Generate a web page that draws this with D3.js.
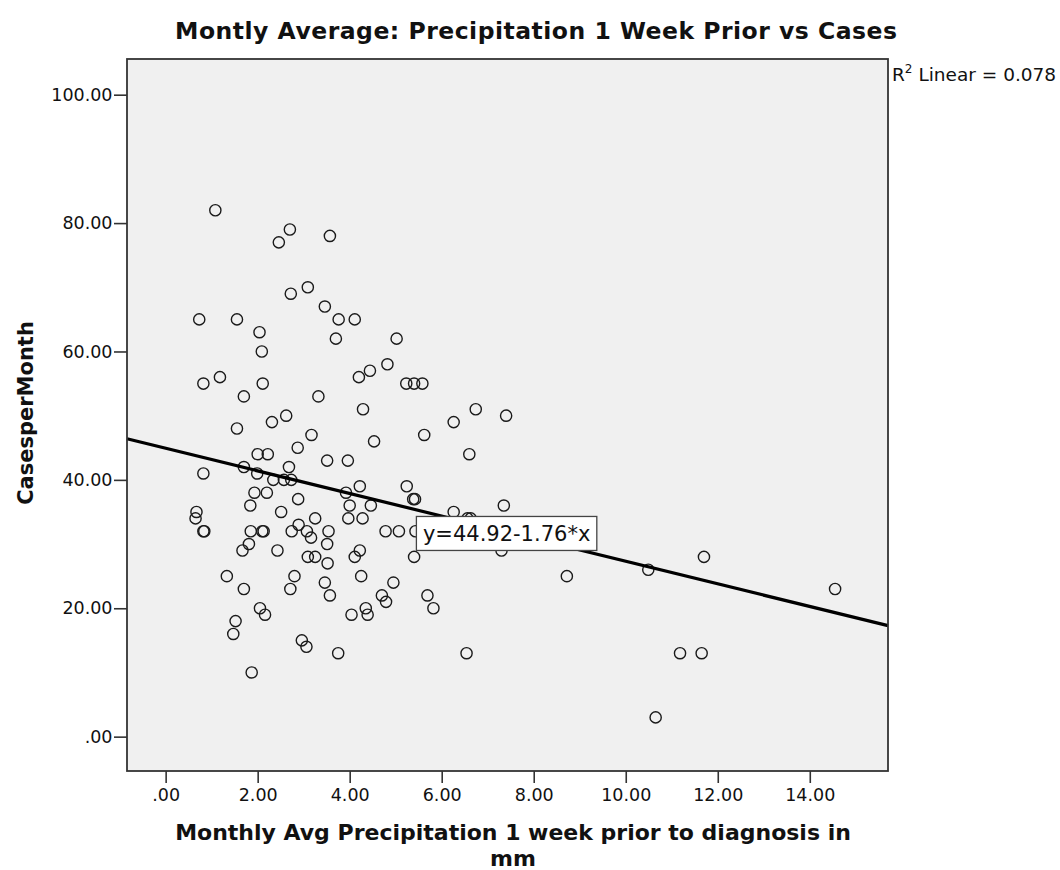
<!DOCTYPE html>
<html>
<head>
<meta charset="utf-8">
<script src="https://cdn.jsdelivr.net/npm/d3@7"></script>
<style>
  body { margin: 0; background: #fff; }
  svg { display: block; }
  text { font-family: "DejaVu Sans", sans-serif; fill: #111; }
</style>
</head>
<body>
<svg id="chart" width="1060" height="870"></svg>
<script>
// Monthly average precipitation one week before diagnosis (mm)
const precip = [
  1.08, 2.70, 2.46, 3.57, 2.72, 3.09, 3.46, 0.73, 1.55, 3.76,
  4.11, 2.04, 3.70, 5.02, 2.09, 4.82, 4.44, 4.20, 1.18, 0.82,
  2.11, 5.23, 5.40, 5.58, 1.70, 3.32, 4.29, 6.74, 2.62, 7.40,
  2.31, 6.26, 1.55, 3.17, 5.62, 4.53, 2.87, 2.00, 2.22, 6.60,
  3.51, 3.96, 1.70, 2.68, 0.82, 1.99, 2.34, 2.57, 2.73, 4.22,
  5.24, 1.93, 2.20, 3.92, 2.88, 5.38, 5.42, 1.84, 4.00, 4.46,
  7.35, 0.67, 2.51, 6.26, 0.65, 3.25, 3.97, 4.28, 6.56, 6.63,
  2.89, 0.82, 0.84, 1.85, 2.10, 2.13, 2.74, 3.07, 3.54, 4.78,
  5.07, 5.43, 3.16, 1.81, 3.51, 1.67, 2.43, 4.22, 7.30, 3.09,
  3.25, 4.11, 5.40, 11.70, 3.52, 10.49, 1.33, 2.80, 4.25, 8.72,
  3.46, 4.95, 1.70, 2.71, 14.55, 3.57, 4.70, 5.69, 4.79, 2.05,
  4.35, 5.82, 2.16, 4.04, 4.39, 1.52, 1.47, 2.96, 3.06, 3.75,
  6.54, 11.18, 11.65, 1.87, 10.65
];

// Cases per month
const cases = [
  82, 79, 77, 78, 69, 70, 67, 65, 65, 65,
  65, 63, 62, 62, 60, 58, 57, 56, 56, 55,
  55, 55, 55, 55, 53, 53, 51, 51, 50, 50,
  49, 49, 48, 47, 47, 46, 45, 44, 44, 44,
  43, 43, 42, 42, 41, 41, 40, 40, 40, 39,
  39, 38, 38, 38, 37, 37, 37, 36, 36, 36,
  36, 35, 35, 35, 34, 34, 34, 34, 34, 34,
  33, 32, 32, 32, 32, 32, 32, 32, 32, 32,
  32, 32, 31, 30, 30, 29, 29, 29, 29, 28,
  28, 28, 28, 28, 27, 26, 25, 25, 25, 25,
  24, 24, 23, 23, 23, 22, 22, 22, 21, 20,
  20, 20, 19, 19, 19, 18, 16, 15, 14, 13,
  13, 13, 13, 10, 3
];

const xTicks = [0, 2, 4, 6, 8, 10, 12, 14];
const yTicks = [0, 20, 40, 60, 80, 100];

// Fitted linear model
const fitIntercept = 44.92;
const fitSlope = -1.76;
const rSquared = 0.078;

const titleText = "Montly Average: Precipitation 1 Week Prior vs Cases";
const xTitleLines = ["Monthly Avg Precipitation 1 week prior to diagnosis in", "mm"];
const yTitleText = "CasesperMonth";

const svg = d3.select("#chart");
const plot = { left: 127, right: 888, top: 59, bottom: 771 };

const x = d3.scaleLinear().domain([-0.84, 15.70]).range([plot.left, plot.right]);
const y = d3.scaleLinear().domain([-5.35, 105.56]).range([plot.bottom, plot.top]);

// "0.00" -> ".00"
const fmt = v => d3.format(".2f")(v).replace(/^0\./, ".");

// Plot background
svg.append("rect")
  .attr("x", plot.left).attr("y", plot.top)
  .attr("width", plot.right - plot.left).attr("height", plot.bottom - plot.top)
  .attr("fill", "#f0f0f0");

// Axes
const xAxis = svg.append("g")
  .attr("transform", `translate(0,${plot.bottom})`)
  .call(d3.axisBottom(x).tickValues(xTicks).tickFormat(fmt).tickSize(12).tickPadding(6).tickSizeOuter(0));
const yAxis = svg.append("g")
  .attr("transform", `translate(${plot.left},0)`)
  .call(d3.axisLeft(y).tickValues(yTicks).tickFormat(fmt).tickSize(13).tickPadding(1.5).tickSizeOuter(0));

[xAxis, yAxis].forEach(g => {
  g.select(".domain").remove();
  g.selectAll(".tick line").attr("stroke", "#333").attr("stroke-width", 1.6);
  g.selectAll(".tick text")
    .attr("font-family", "DejaVu Sans, sans-serif")
    .attr("font-size", 17.5)
    .attr("fill", "#222");
});

// Points
const pts = precip.map((p, i) => ({ p, c: cases[i] }));
svg.append("g")
  .selectAll("circle")
  .data(pts)
  .join("circle")
  .attr("cx", d => x(d.p))
  .attr("cy", d => y(d.c))
  .attr("r", 5.6)
  .attr("fill", "none")
  .attr("stroke", "#1a1a1a")
  .attr("stroke-width", 1.4);

// Fit line across the full x range
const [x0, x1] = x.domain();
const fit = v => fitIntercept + fitSlope * v;
svg.append("line")
  .attr("x1", x(x0)).attr("y1", y(fit(x0)))
  .attr("x2", x(x1)).attr("y2", y(fit(x1)))
  .attr("stroke", "#000")
  .attr("stroke-width", 3.2);

// Equation label
const eqText = `y=${fitIntercept.toFixed(2)}${fitSlope < 0 ? "-" : "+"}${Math.abs(fitSlope).toFixed(2)}*x`;
const eqX = x(5.45), eqY = y(34.3);
const eqG = svg.append("g").attr("transform", `translate(${eqX},${eqY})`);
const eqRect = eqG.append("rect").attr("fill", "#fff").attr("stroke", "#444").attr("stroke-width", 1.3);
const eqT = eqG.append("text")
  .attr("x", 6.5).attr("y", 24.5)
  .attr("font-size", 21)
  .text(eqText);
const eqW = eqT.node().getComputedTextLength();
eqRect.attr("x", 0).attr("y", 0).attr("width", eqW + 13).attr("height", 34);

// Plot frame
svg.append("rect")
  .attr("x", plot.left).attr("y", plot.top)
  .attr("width", plot.right - plot.left).attr("height", plot.bottom - plot.top)
  .attr("fill", "none")
  .attr("stroke", "#333")
  .attr("stroke-width", 1.8);

// R squared note
const r2 = svg.append("text")
  .attr("x", plot.right + 4).attr("y", 81)
  .attr("font-size", 18.5)
  .attr("fill", "#222");
r2.append("tspan").text("R");
r2.append("tspan").attr("font-size", 12).attr("dy", -8).text("2");
r2.append("tspan").attr("dy", 8).text(` Linear = ${rSquared.toFixed(3)}`);

// Titles
svg.append("text")
  .attr("x", 536).attr("y", 39)
  .attr("text-anchor", "middle")
  .attr("font-weight", "bold")
  .attr("font-size", 23.5)
  .attr("textLength", 722)
  .attr("lengthAdjust", "spacing")
  .text(titleText);

svg.append("text")
  .attr("text-anchor", "middle")
  .attr("font-weight", "bold")
  .attr("font-size", 22)
  .selectAll("tspan")
  .data(xTitleLines)
  .join("tspan")
  .attr("x", 513)
  .attr("y", (d, i) => 840 + i * 26)
  .text(d => d);

svg.append("text")
  .attr("transform", `translate(33,413) rotate(-90)`)
  .attr("text-anchor", "middle")
  .attr("font-weight", "bold")
  .attr("font-size", 21)
  .text(yTitleText);
</script>
</body>
</html>
